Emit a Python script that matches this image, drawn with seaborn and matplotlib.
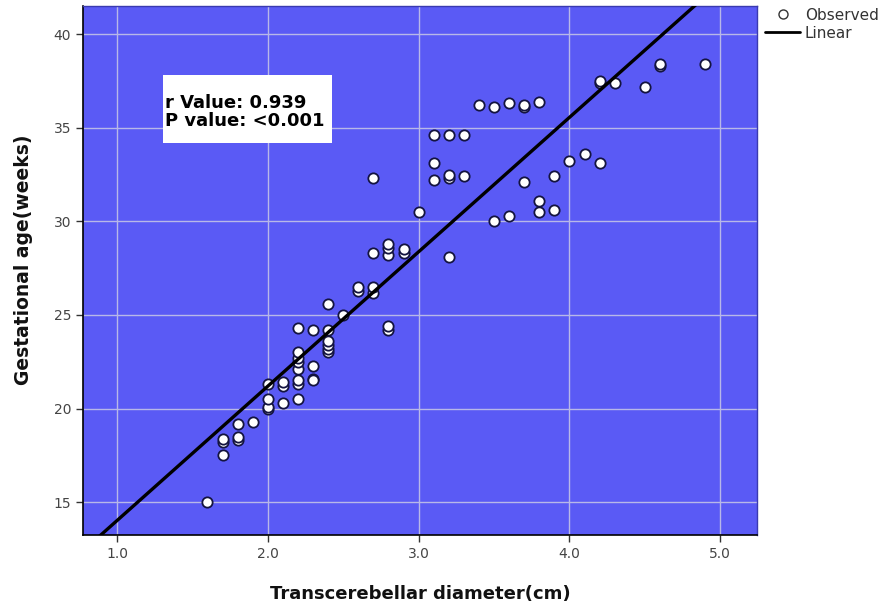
import numpy as np
import pandas as pd
import matplotlib
matplotlib.use("Agg")
import matplotlib.pyplot as plt
import seaborn as sns
from matplotlib.lines import Line2D
from matplotlib.patches import Rectangle

# Transcerebellar diameter (cm) and gestational age (weeks)
tcd = [1.6, 1.7, 1.7, 1.7, 1.8, 1.8, 1.8, 1.9,
       2.0, 2.0, 2.0, 2.0, 2.1, 2.1, 2.1, 2.2, 2.2, 2.2, 2.2, 2.2, 2.2, 2.2, 2.2,
       2.3, 2.3, 2.3, 2.3, 2.4, 2.4, 2.4, 2.4, 2.4, 2.4, 2.5,
       2.6, 2.6, 2.7, 2.7, 2.7, 2.7, 2.8, 2.8, 2.8, 2.8, 2.8, 2.9, 2.9,
       3.0, 3.1, 3.1, 3.1, 3.2, 3.2, 3.2, 3.2, 3.3, 3.3,
       3.4, 3.5, 3.5, 3.6, 3.6, 3.7, 3.7, 3.7, 3.8, 3.8, 3.8,
       3.9, 3.9, 4.0, 4.1, 4.2, 4.2, 4.2, 4.3, 4.5, 4.6, 4.6, 4.9]
ga = [15.0, 17.5, 18.2, 18.4, 18.3, 18.5, 19.2, 19.3,
      20.0, 20.1, 20.5, 21.3, 20.3, 21.2, 21.4, 20.5, 21.3, 21.5, 22.1, 22.5, 22.7, 23.0, 24.3,
      21.6, 22.3, 24.2, 21.5, 23.0, 23.2, 23.4, 23.6, 24.2, 25.6, 25.0,
      26.3, 26.5, 26.15, 26.5, 28.3, 32.3, 24.2, 24.4, 28.2, 28.55, 28.8, 28.3, 28.5,
      30.5, 32.2, 33.1, 34.6, 28.1, 32.3, 32.5, 34.6, 32.4, 34.6,
      36.2, 30.0, 36.1, 30.3, 36.3, 32.1, 36.1, 36.2, 30.5, 31.1, 36.4,
      30.6, 32.4, 33.2, 33.6, 33.1, 37.4, 37.5, 37.4, 37.2, 38.3, 38.4, 38.4]

x_ticks = [1.0, 2.0, 3.0, 4.0, 5.0]
y_ticks = [15, 20, 25, 30, 35, 40]
stats_text = "r Value: 0.939\nP value: <0.001"

df = pd.DataFrame({"tcd": tcd, "ga": ga})

sns.set_style("white")
plt.rcParams["font.family"] = ["DejaVu Sans"]

fig = plt.figure(figsize=(8.93, 6.04), dpi=100)
ax = fig.add_axes([0.093, 0.114, 0.755, 0.876])
bg = "#5A5AF5"
ax.set_facecolor(bg)

ax.set_xlim(0.775, 5.245)
ax.set_ylim(13.24, 41.5)
ax.set_xticks(x_ticks)
ax.set_xticklabels([f"{v:.1f}" for v in x_ticks])
ax.set_yticks(y_ticks)
ax.grid(True, color="#B8B8E8", linewidth=1.0)
ax.set_axisbelow(True)

sns.regplot(data=df, x="tcd", y="ga", ax=ax, ci=None, truncate=False,
            scatter_kws=dict(s=55, facecolor="white", edgecolor="#141440",
                             linewidths=1.3, alpha=1, zorder=3),
            line_kws=dict(color="black", linewidth=2.4, zorder=4))
ax.set_xlim(0.775, 5.245)
ax.set_ylim(13.24, 41.5)

for s in ["left", "bottom"]:
    ax.spines[s].set_color("black")
    ax.spines[s].set_linewidth(1.2)
for s in ["top", "right"]:
    ax.spines[s].set_color("#3a3ab0")
    ax.spines[s].set_linewidth(1.0)

ax.tick_params(axis="both", direction="out", length=5, width=1, color="#333333",
               labelcolor="#444444", labelsize=10, left=True, bottom=True)

ax.set_xlabel("Transcerebellar diameter(cm)", fontsize=13, fontweight="bold",
              color="#111111", va="center")
ax.xaxis.set_label_coords(0.5, -0.112)
ax.set_ylabel("Gestational age(weeks)", fontsize=13.5, fontweight="bold",
              color="#111111", va="center")
ax.yaxis.set_label_coords(-0.089, 0.52)

ax.add_patch(Rectangle((0.119, 0.741), 0.25, 0.129, transform=ax.transAxes,
                       facecolor="white", edgecolor="none", zorder=5))
ax.text(0.122, 0.800, stats_text, transform=ax.transAxes, fontsize=13,
        fontweight="bold", color="black", va="center", ha="left",
        linespacing=1.0, zorder=6)

handles = [Line2D([], [], marker="o", linestyle="none", markerfacecolor="white",
                  markeredgecolor="#333333", markersize=6.5, label="Observed"),
           Line2D([], [], color="black", linewidth=2, label="Linear")]
fig.legend(handles=handles, loc="upper left", bbox_to_anchor=(0.8415, 1.01),
           frameon=False, fontsize=11, handlelength=2.3, handletextpad=0.3,
           labelspacing=0.2, labelcolor="#333333")

fig.savefig("out.png", dpi=100)
